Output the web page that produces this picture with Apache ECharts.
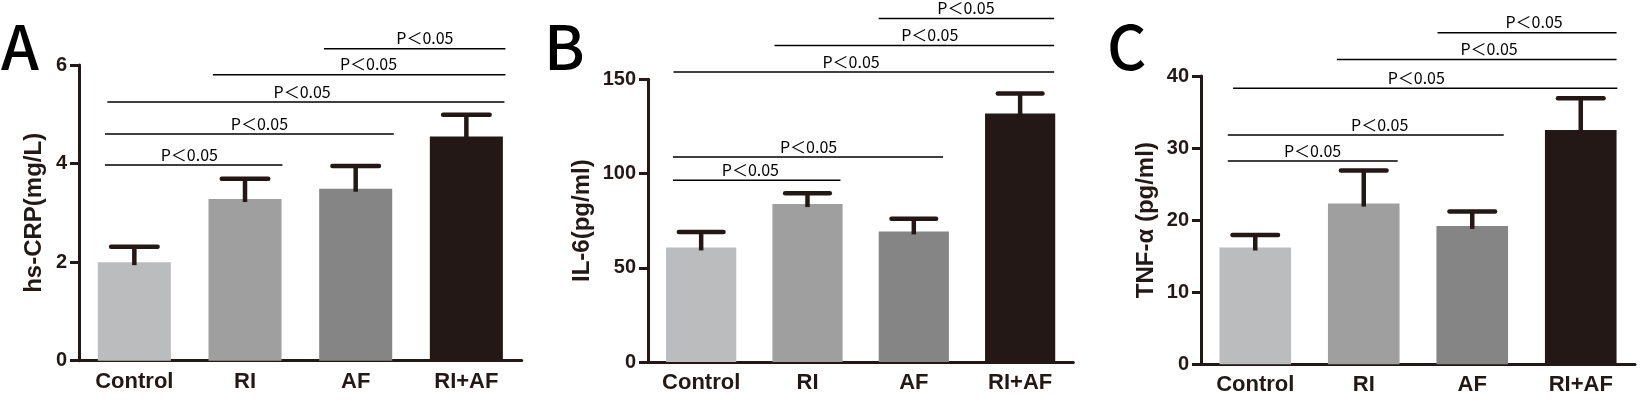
<!DOCTYPE html>
<html><head><meta charset="utf-8">
<script src="https://cdn.jsdelivr.net/npm/echarts@6/dist/echarts.min.js"></script>
<style>html,body{margin:0;padding:0;background:#fff}#c{width:1640px;height:400px}</style>
</head><body><div id="c"></div>
<script>
// ---------- data ----------
const categories = ['Control', 'RI', 'AF', 'RI+AF'];
const panelLetters = ['A', 'B', 'C'];
const yTitles = ['hs-CRP(mg/L)', 'IL-6(pg/ml)', 'TNF-α (pg/ml)'];
const yMax = [6, 150, 40];
const yInterval = [2, 50, 10];

const crpMean = [2.0, 3.28, 3.49, 4.55];
const crpSD   = [0.31, 0.41, 0.46, 0.44];
const il6Mean = [60.8, 83.8, 69.3, 131.9];
const il6SD   = [8.2, 5.8, 6.7, 10.6];
const tnfMean = [16.2, 22.3, 19.2, 32.5];
const tnfSD   = [1.75, 4.6, 2.0, 4.4];

// significance brackets: [from (category units), to, y value, label centre]
const crpSig = [[-0.265, 1.338, 3.97, 0.497], [-0.265, 2.344, 4.60, 1.13], [-0.244, 3.344, 5.25, 1.516], [0.71, 3.353, 5.80, 2.116], [1.713, 3.353, 6.33, 2.625]];
const il6Sig = [[-0.265, 1.31, 96.4, 0.463], [-0.265, 2.275, 108.8, 1.01], [-0.26, 3.32, 153.9, 1.41], [0.69, 3.32, 168.0, 2.15], [1.67, 3.32, 182.2, 2.49]];
const tnfSig = [[-0.253, 1.313, 28.2, 0.528], [-0.253, 2.29, 31.8, 1.147], [-0.204, 3.337, 38.3, 1.484], [0.752, 3.33, 42.3, 2.155], [1.68, 3.33, 46.0, 2.57]];
const sigLabel = 'P＜0.05';

// ---------- styles / layout ----------
const barColors = ['#bbbcbe', '#9f9f9f', '#858585', '#231815'];
const ink = '#231815';
const grids = [
  { left: 79, top: 65, width: 442.7, height: 295.7 },
  { left: 648, top: 79.3, width: 425.3, height: 282.7 },
  { left: 1201, top: 76, width: 434, height: 288.3 }
];
const nameGaps = [33, 54, 43];
const letterPos = [{ left: 1, top: 16 }, { left: 544, top: 16 }, { left: 1107, top: 16 }];

const means = [crpMean, il6Mean, tnfMean];
const sds = [crpSD, il6SD, tnfSD];
const sigs = [crpSig, il6Sig, tnfSig];

function errRender(params, api) {
  const x = api.value(0);
  const lo = api.coord([x, api.value(1)]);
  const hi = api.coord([x, api.value(2)]);
  const bw = api.size([1, 0])[0];
  const half = bw * 0.21;
  return { type: 'group', children: [
    { type: 'line', shape: { x1: lo[0], y1: lo[1] + 3, x2: hi[0], y2: hi[1] }, style: { stroke: ink, lineWidth: 4.5 } },
    { type: 'line', shape: { x1: hi[0] - half, y1: hi[1], x2: hi[0] + half, y2: hi[1] }, style: { stroke: ink, lineWidth: 4.5, lineCap: 'round' } }
  ] };
}
function sigRender(params, api) {
  const y = api.value(2);
  const a = api.coord([api.value(0), y]);
  const b = api.coord([api.value(1), y]);
  const t = api.coord([api.value(3), y]);
  return { type: 'group', children: [
    { type: 'line', shape: { x1: a[0], y1: a[1], x2: b[0], y2: b[1] }, style: { stroke: '#000', lineWidth: 1.5 } },
    { type: 'text', x: t[0], y: t[1] - 10.5, style: { text: sigLabel, fill: '#000', fontSize: 16, fontFamily: 'Noto Sans CJK SC', align: 'center', verticalAlign: 'middle' } }
  ] };
}

const option = { animation: false, grid: [], xAxis: [], yAxis: [], series: [], title: [] };
for (let i = 0; i < 3; i++) {
  option.grid.push(grids[i]);
  option.title.push({ text: panelLetters[i], left: letterPos[i].left, top: letterPos[i].top, padding: 0,
    textStyle: { fontSize: 61, fontFamily: 'Noto Sans CJK SC', fontWeight: 500, color: '#000' } });
  option.xAxis.push({
    type: 'category', gridIndex: i, data: categories, boundaryGap: true,
    axisLine: { onZero: false, lineStyle: { color: ink, width: 3 } },
    axisTick: { alignWithLabel: true, length: 9, lineStyle: { color: ink, width: 3 } },
    axisLabel: { color: ink, fontSize: 22, fontWeight: 'bold', fontFamily: 'Liberation Sans', margin: 10 },
    splitLine: { show: false }
  });
  option.xAxis.push({ type: 'value', gridIndex: i, min: -0.5, max: 3.5, show: false });
  option.yAxis.push({
    type: 'value', gridIndex: i, min: 0, max: yMax[i], interval: yInterval[i],
    name: yTitles[i], nameLocation: 'middle', nameGap: nameGaps[i],
    nameTextStyle: { color: ink, fontSize: 24, fontWeight: 'bold', fontFamily: 'Liberation Sans' },
    axisLine: { show: true, onZero: false, lineStyle: { color: ink, width: 3 } },
    axisTick: { show: true, length: 9, lineStyle: { color: ink, width: 3 } },
    axisLabel: { color: ink, fontSize: 20, fontWeight: 'bold', fontFamily: 'Liberation Sans', margin: 12 },
    splitLine: { show: false }
  });
  option.series.push({
    type: 'bar', xAxisIndex: 2 * i, yAxisIndex: i, barWidth: '66%',
    data: means[i],
    itemStyle: { color: p => barColors[p.dataIndex] }
  });
  option.series.push({
    type: 'custom', xAxisIndex: 2 * i, yAxisIndex: i, renderItem: errRender, z: 5,
    encode: { x: 0, y: [1, 2] },
    data: means[i].map((m, j) => [j, m, m + sds[i][j]])
  });
  option.series.push({
    type: 'custom', xAxisIndex: 2 * i + 1, yAxisIndex: i, renderItem: sigRender, z: 6, clip: false,
    encode: { x: [0, 1], y: 2 },
    data: sigs[i]
  });
}
const chart = echarts.init(document.getElementById('c'), null, { renderer: 'canvas' });
chart.setOption(option);
</script>
</body></html>
